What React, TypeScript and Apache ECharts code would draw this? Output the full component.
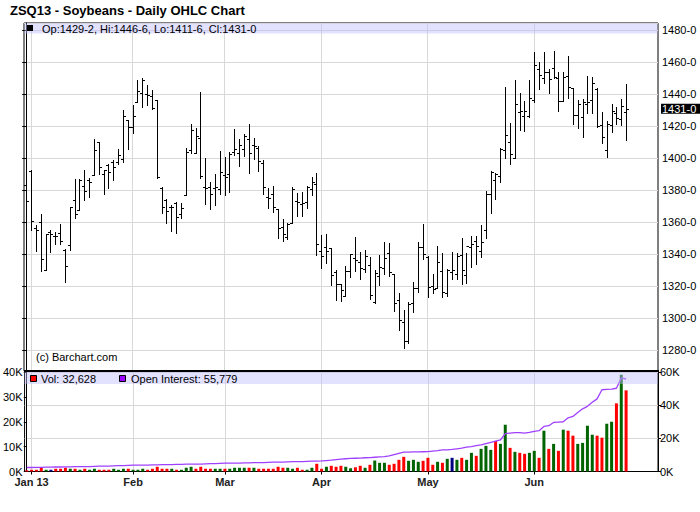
import React, { useEffect, useRef } from "react";
import * as echarts from "echarts";

// ---- Data (index 0 = Dec 31 2012, one entry per trading day to Jun 28 2013) ----
const opens = [
  1383.3, 1392, 1356.3, 1360, 1330, 1353.8, 1351.7, 1353.1, 1342.5, 1345.8,
  1374, 1367.5, 1382.7, 1386.5, 1389.8, 1410, 1390.2, 1396, 1397.9, 1397.7,
  1399.6, 1423.8, 1419.8, 1435, 1441, 1440.2, 1439.2, 1436.25, 1381.25, 1374,
  1369.8, 1372.3, 1365.2, 1376.9, 1405, 1403.3, 1412.5, 1382.3, 1381.9, 1381.25,
  1380.6, 1389.6, 1390.2, 1404, 1403.5, 1405.8, 1412.1, 1408.1, 1406.25, 1397.1,
  1376, 1377.5, 1368.5, 1357.3, 1351, 1359.8, 1373.1, 1371.7, 1372.5, 1381,
  1384.2, 1341.9, 1344.8, 1343.75, 1328.75, 1321.25, 1314, 1329.6, 1337.9, 1335.2,
  1330.8, 1333.3, 1310.4, 1326.5, 1331.5, 1340.6, 1327.7, 1311.25, 1297.7, 1285.8,
  1309.4, 1319, 1344.8, 1338.3, 1320.4, 1318.75, 1329.6, 1316, 1328.75, 1327.9,
  1339.6, 1326.9, 1344.8, 1348.5, 1342.1, 1355, 1378, 1386.25, 1388.75, 1405.2,
  1410, 1400, 1428.75, 1426.5, 1426.25, 1436.5, 1455.6, 1450.4, 1454.2, 1456.25,
  1450, 1435.8, 1451.7, 1443.75, 1426.9, 1425.6, 1433.75, 1436.5, 1443.3, 1420.8,
  1405.2, 1420.8, 1428.5, 1424.6, 1429.25,
];
const highs = [
  1390.2, 1392.7, 1358.3, 1365.2, 1352.7, 1355.2, 1354.2, 1359, 1343.1, 1369.8,
  1387.3, 1387.3, 1392.7, 1387.9, 1412.1, 1410.4, 1392.9, 1396.5, 1399, 1405.8,
  1430.2, 1424, 1433.5, 1449, 1450, 1445.8, 1442.7, 1436.5, 1381.9, 1374.6,
  1370.8, 1372.5, 1371.9, 1406.25, 1421.5, 1419, 1441.25, 1400, 1385, 1390.2,
  1404.6, 1400.6, 1403.75, 1418.3, 1411.9, 1415, 1421.25, 1412.5, 1407.7, 1399.2,
  1381.25, 1382.5, 1368.5, 1362.3, 1359.8, 1382.1, 1378.5, 1379.2, 1383, 1388.1,
  1391, 1351.9, 1352.5, 1344, 1330, 1321.25, 1332.7, 1340.2, 1351, 1341.5,
  1342.7, 1338.5, 1330.2, 1339.8, 1347.7, 1346.9, 1327.7, 1316, 1305.2, 1310.2,
  1322.7, 1347.7, 1359, 1339, 1327.7, 1345.2, 1340.8, 1330.8, 1341.7, 1341,
  1350, 1341, 1351.5, 1351.5, 1358.3, 1379.6, 1392, 1390.6, 1406.7, 1444.8,
  1422.3, 1449, 1441, 1436, 1449, 1466.7, 1460.2, 1466.5, 1455.6, 1467.3,
  1454.2, 1454, 1464, 1443.75, 1436.5, 1437, 1451.5, 1451, 1443.75, 1429.2,
  1423.5, 1433.75, 1432.3, 1436.9, 1446.75,
];
const lows = [
  1366.7, 1355.2, 1342.1, 1329.8, 1330, 1341.7, 1346.7, 1346.7, 1322.9, 1342.7,
  1362.9, 1367.5, 1374.2, 1375.8, 1389.8, 1390.4, 1377.9, 1381.7, 1386.3, 1396.3,
  1397.5, 1406, 1416, 1435, 1432.3, 1433.3, 1430.6, 1387.5, 1366, 1359.8,
  1354.8, 1353.5, 1362.5, 1376.9, 1403.5, 1403.1, 1387.5, 1371.7, 1368.1, 1370.6,
  1377.9, 1376.9, 1379, 1401.9, 1395.4, 1401.7, 1390.8, 1399.8, 1392.1, 1377.5,
  1369, 1366.25, 1350.2, 1348.3, 1349.8, 1359.8, 1363.75, 1363.75, 1369.2, 1376.9,
  1339.8, 1331.7, 1334.6, 1321, 1311.25, 1311, 1314, 1325.6, 1329.4, 1324.8,
  1328.75, 1312.3, 1309.8, 1321, 1327.7, 1326.5, 1304.8, 1292.7, 1281.7, 1284.4,
  1304.2, 1316.7, 1337.3, 1313.5, 1315.6, 1318.75, 1313.5, 1314, 1324.4, 1324.8,
  1321.25, 1322, 1332.3, 1334, 1338.1, 1350, 1366, 1374.8, 1385.4, 1400.4,
  1396.25, 1400, 1417.7, 1417.3, 1426, 1435.4, 1443.5, 1446.9, 1440.6, 1450,
  1429.8, 1435.8, 1438, 1421.5, 1419.2, 1413.5, 1428.1, 1428.5, 1419.8, 1409.8,
  1401, 1416.7, 1421.25, 1420.8, 1411.75,
];
const closes = [
  1373.3, 1360.8, 1355.5, 1337, 1352.5, 1352.5, 1351.5, 1348.1, 1332.5, 1369.8,
  1365, 1386.5, 1379.4, 1385, 1405.2, 1394.4, 1392.7, 1391.7, 1394.6, 1401.9,
  1426.3, 1419.6, 1426.3, 1442, 1449, 1439.6, 1431.3, 1388.5, 1369.6, 1366.9,
  1369.6, 1363.5, 1369, 1404.2, 1417.5, 1413.75, 1389, 1381.25, 1377.7, 1382.3,
  1391.7, 1388.1, 1402.7, 1406, 1408.5, 1414.2, 1403.5, 1407.5, 1398.5, 1382.3,
  1375.4, 1369.8, 1356.7, 1352.5, 1358.75, 1381, 1372.7, 1372, 1382.3, 1385.4,
  1346.7, 1339, 1341.9, 1326.9, 1321.7, 1317.5, 1329.6, 1340, 1336.25, 1331.7,
  1339.2, 1314.8, 1328.1, 1332.3, 1337.7, 1329, 1309.6, 1299, 1285.8, 1309.2,
  1318.75, 1344.8, 1340, 1319.4, 1318.3, 1335.4, 1316.7, 1330.25, 1330.25, 1339,
  1330.2, 1345.2, 1346.5, 1345, 1348, 1378, 1391.25, 1390.2, 1406, 1414.6,
  1402.7, 1434, 1429.6, 1429.4, 1437.5, 1458.3, 1452, 1454.2, 1449.5, 1451,
  1435.8, 1451, 1444.8, 1426.9, 1433.75, 1435, 1435.5, 1446.9, 1420.2, 1413.5,
  1421.5, 1429.6, 1425, 1432.7, 1431,
];
const volumes = [
  500, 700, 700, 1700, 700, 700, 1100, 1100, 1500, 1100,
  1100, 700, 1100, 700, 1100, 700, 700, 700, 1100, 700,
  1100, 1100, 700, 700, 1100, 700, 1100, 1900, 1100, 1100,
  1100, 700, 700, 1500, 1900, 1100, 1900, 1100, 1100, 1100,
  1100, 1100, 1100, 1500, 1500, 1500, 1500, 1500, 1100, 1100,
  1100, 1100, 1900, 1500, 1500, 1100, 1500, 700, 700, 1500,
  3100, 1100, 1900, 2300, 1900, 2300, 1900, 1300, 1700, 2300,
  1500, 2700, 4400, 3500, 3500, 2700, 3100, 4700, 5900, 4300,
  4700, 3900, 4300, 5500, 2700, 3900, 3500, 5100, 5500, 4700,
  5500, 4700, 7500, 6300, 9100, 10300, 8700, 12300, 11100, 18800,
  9500, 7900, 7500, 7100, 7500, 8300, 5500, 16400, 9100, 11100,
  8300, 16800, 16400, 14400, 11100, 11500, 18400, 14800, 14400, 13600,
  19200, 20000, 27400, 38900, 32628,
];
const openInterest = [
  2400, 2400, 2500, 2500, 2600, 2600, 2700, 2700, 2800, 2800,
  2900, 2900, 3000, 3000, 3100, 3200, 3200, 3300, 3400, 3500,
  3600, 3700, 3800, 3800, 3900, 3900, 4000, 4000, 4100, 4200,
  4200, 4300, 4300, 4400, 4400, 4500, 4500, 4600, 4700, 4800,
  4900, 5000, 5000, 5100, 5100, 5200, 5200, 5300, 5400, 5400,
  5500, 5600, 5700, 5700, 5800, 5900, 6000, 6000, 6100, 6200,
  6300, 6400, 6600, 6800, 7100, 7400, 7700, 7900, 8000, 8100,
  8300, 8400, 8600, 8800, 9000, 9400, 10200, 11000, 11700, 11700,
  11800, 11800, 11900, 12000, 12300, 12600, 13000, 13000, 13300, 13700,
  14100, 14700, 15000, 15600, 16000, 16800, 17600, 18300, 19000, 22800,
  23200, 23400, 23400, 23200, 23600, 24200, 24600, 27200, 27600, 29600,
  29800, 30000, 32400, 33200, 35600, 37800, 39300, 41700, 43800, 49300,
  49500, 49700, 50200, 56400, 55779,
];
const monthTicks = [1, 22, 41, 61, 83, 105];
const monthLabels = ["Jan 13", "Feb", "Mar", "Apr", "May", "Jun"];

const FONT = "Liberation Sans, Arial, sans-serif";
const GRID_L = 24;
const GRID_R = 42;
const X_MIN = -0.45;
const X_MAX = 130.6;

function fmt8(v: number): string {
  const w = Math.floor(v + 1e-9);
  const e = Math.round((v - w) * 8);
  return `${w}-${e}`;
}
function fmtThousands(v: number): string {
  return String(Math.round(v)).replace(/\B(?=(\d{3})+(?!\d))/g, ",");
}

export default function App() {
  const ref = useRef<HTMLDivElement>(null);
  useEffect(() => {
    if (!ref.current) return;
    const chart = echarts.init(ref.current, null, { renderer: "svg" });
    const n = closes.length;
    const ohlc = closes.map((c, i) => [i, opens[i], highs[i], lows[i], c]);
    const volColor = (i: number) => {
      const prev = i === 0 ? opens[0] : closes[i - 1];
      if (closes[i] > prev) return "#006400";
      if (closes[i] < prev) return "#ff0000";
      return "#000080";
    };
    const volData = volumes.map((v, i) => ({ value: [i, v], itemStyle: { color: volColor(i) } }));
    const oiData = openInterest.map((v, i) => [i, v]);
    const last = n - 1;
    const headText = `Op:${fmt8(opens[last])}, Hi:${fmt8(highs[last])}, Lo:${fmt8(lows[last])}, Cl:${fmt8(closes[last])}`;

    const gridLine = { show: true, lineStyle: { color: "#d8d8d8", width: 1 } };
    const axisFont = { fontFamily: FONT, fontSize: 11, color: "#000" };

    const option: any = {
      animation: false,
      backgroundColor: "#fff",
      grid: [
        { left: GRID_L, right: GRID_R, top: 23, height: 348, show: true, borderColor: "#000", borderWidth: 1, backgroundColor: "#fff" },
        { left: GRID_L, right: GRID_R, top: 372, height: 99.5, show: true, borderColor: "#000", borderWidth: 1, backgroundColor: "#fff" },
      ],
      xAxis: [
        {
          type: "value", gridIndex: 0, min: X_MIN, max: X_MAX,
          axisLine: { show: false },
          axisTick: { show: false, customValues: monthTicks },
          axisLabel: { show: false, customValues: monthTicks },
          splitLine: gridLine,
        },
        {
          type: "value", gridIndex: 1, min: X_MIN, max: X_MAX,
          axisLine: { show: true, lineStyle: { color: "#000" } },
          axisTick: { show: true, customValues: monthTicks, length: 3, lineStyle: { color: "#000" } },
          axisLabel: {
            show: true, customValues: monthTicks, margin: 5,
            fontFamily: FONT, fontSize: 11, fontWeight: "bold", color: "#222",
            formatter: (v: number) => monthLabels[monthTicks.indexOf(Math.round(v))] ?? "",
          },
          splitLine: gridLine,
        },
      ],
      yAxis: [
        {
          type: "value", gridIndex: 0, position: "right", min: 1267.1, max: 1484.6, splitNumber: 11,
          axisLine: { show: true, lineStyle: { color: "#000" } },
          axisTick: { show: true, inside: true, length: 4, lineStyle: { color: "#000" } },
          axisLabel: { ...axisFont, margin: 4, showMinLabel: false, showMaxLabel: false, formatter: (v: number) => `${v}-0` },
          splitLine: gridLine,
        },
        {
          type: "value", gridIndex: 1, position: "left", min: 0, max: 40000, interval: 10000,
          axisLine: { show: true, lineStyle: { color: "#000" } },
          axisTick: { show: true, length: 3, lineStyle: { color: "#000" } },
          axisLabel: { ...axisFont, margin: 2, formatter: (v: number) => `${v / 1000}K` },
          splitLine: { show: false },
        },
        {
          type: "value", gridIndex: 1, position: "right", min: 0, max: 60000, interval: 20000,
          axisLine: { show: true, lineStyle: { color: "#000" } },
          axisTick: { show: true, length: 3, lineStyle: { color: "#000" } },
          axisLabel: { ...axisFont, margin: 2, formatter: (v: number) => `${v / 1000}K` },
          splitLine: gridLine,
        },
      ],
      series: [
        {
          type: "custom", xAxisIndex: 0, yAxisIndex: 0, data: ohlc, z: 5,
          encode: { x: 0, y: [1, 2, 3, 4] },
          renderItem: (params: any, api: any) => {
            const x = api.value(0);
            const ph = api.coord([x, api.value(2)]);
            const pl = api.coord([x, api.value(3)]);
            const po = api.coord([x, api.value(1)]);
            const pc = api.coord([x, api.value(4)]);
            const cx = Math.round(ph[0]) + 0.5;
            const oy = Math.round(po[1]) + 0.5;
            const cy = Math.round(pc[1]) + 0.5;
            const st = { stroke: "#000", lineWidth: 1 };
            return {
              type: "group",
              children: [
                { type: "line", shape: { x1: cx, y1: Math.round(ph[1]), x2: cx, y2: Math.round(pl[1]) + 1 }, style: st },
                { type: "line", shape: { x1: cx - 2.5, y1: oy, x2: cx, y2: oy }, style: st },
                { type: "line", shape: { x1: cx, y1: cy, x2: cx + 2.5, y2: cy }, style: st },
              ],
            };
          },
        },
        {
          type: "bar", xAxisIndex: 1, yAxisIndex: 1, data: volData, barWidth: 3, z: 3,
        },
        {
          type: "line", xAxisIndex: 1, yAxisIndex: 2, data: oiData, symbol: "none", z: 4,
          lineStyle: { color: "#a040ff", width: 1.3 },
        },
      ],
    };
    chart.setOption(option);

    const lastY = chart.convertToPixel({ xAxisIndex: 0, yAxisIndex: 0 } as any, [last, closes[last]]) as any;
    const ly = lastY[1];
    const plotRight = 700 - GRID_R;

    chart.setOption({
      graphic: [
        { type: "text", left: 10, top: 4, z: 100, style: { text: "ZSQ13 - Soybeans - Daily OHLC Chart", font: `bold 13px ${FONT}`, fill: "#000" } },
        { type: "rect", z: 100, shape: { x: GRID_L + 0.5, y: 23.5, width: plotRight - GRID_L - 1, height: 10 }, style: { fill: "rgba(190,190,255,0.45)" } },
        { type: "rect", z: 101, shape: { x: 27, y: 25, width: 6, height: 6 }, style: { fill: "#000" } },
        { type: "text", z: 101, x: 42, y: 28.5, style: { text: headText, font: `11px ${FONT}`, fill: "#000", verticalAlign: "middle" } },
        { type: "text", z: 101, x: 36, y: 357, style: { text: "(c) Barchart.com", font: `11px ${FONT}`, fill: "#000", verticalAlign: "middle" } },
        { type: "rect", z: 102, shape: { x: GRID_L, y: 370, width: plotRight - GRID_L + 1, height: 2 }, style: { fill: "#000" } },
        { type: "rect", z: 100, shape: { x: GRID_L + 0.5, y: 372, width: plotRight - GRID_L - 1, height: 12 }, style: { fill: "rgba(190,190,255,0.45)" } },
        { type: "rect", z: 101, shape: { x: 30.5, y: 375.5, width: 6, height: 6 }, style: { fill: "#ff0000", stroke: "#000", lineWidth: 1 } },
        { type: "text", z: 101, x: 41, y: 378.5, style: { text: `Vol: ${fmtThousands(volumes[last])}`, font: `11px ${FONT}`, fill: "#000", verticalAlign: "middle" } },
        { type: "rect", z: 101, shape: { x: 119.5, y: 375.5, width: 6, height: 6 }, style: { fill: "#9900ff", stroke: "#000", lineWidth: 1 } },
        { type: "text", z: 101, x: 131, y: 378.5, style: { text: `Open Interest: ${fmtThousands(openInterest[last])}`, font: `11px ${FONT}`, fill: "#000", verticalAlign: "middle" } },
        { type: "rect", z: 103, shape: { x: plotRight + 3, y: ly - 5, width: 700 - plotRight - 3, height: 10 }, style: { fill: "#000" } },
        { type: "text", z: 104, x: plotRight + 4, y: ly, style: { text: fmt8(closes[last]), font: `11px ${FONT}`, fill: "#fff", verticalAlign: "middle" } },
      ],
    });

    return () => chart.dispose();
  }, []);
  return <div ref={ref} style={{ position: "fixed", left: 0, top: 0, width: 700, height: 512 }} />;
}
